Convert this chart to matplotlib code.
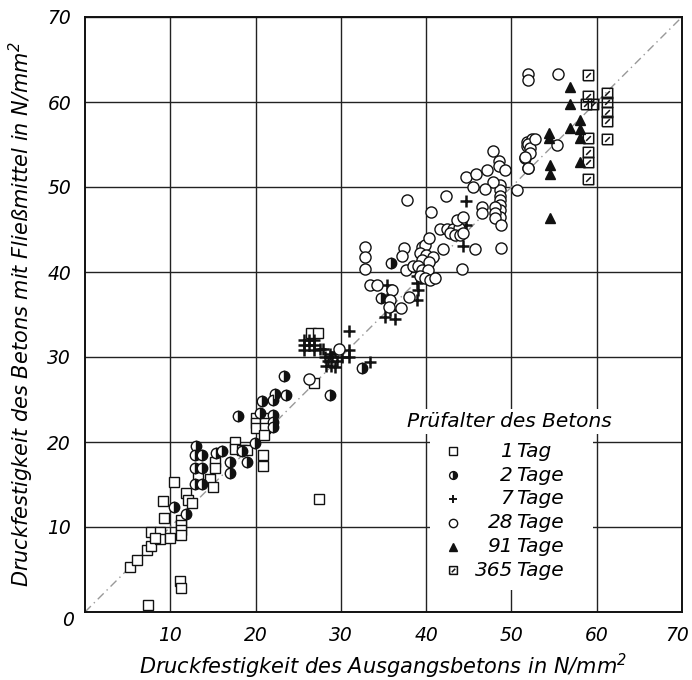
import matplotlib
matplotlib.use("Agg")
import matplotlib.pyplot as plt
from matplotlib.path import Path
from matplotlib.patches import Rectangle
from matplotlib.transforms import ScaledTranslation

plt.rcParams['font.family'] = ['DejaVu Sans']
plt.rcParams['font.style'] = 'italic'

# ---------------- data ----------------
tag1_x = [7.4, 11.1, 11.25, 5.3, 6.1, 7.3, 7.8, 7.7, 8.8, 8.8, 8.2, 10.0, 9.3, 9.1, 10.4,
          11.25, 11.25, 11.25, 11.25, 11.8, 12.1, 12.5, 13.2, 14.7, 15.0, 15.2, 15.2,
          17.6, 17.6, 18.4, 19.0, 20.9, 20.9, 20.0, 20.0, 20.0, 21.1, 21.1, 21.1, 21.0,
          26.5, 27.3, 26.8, 27.4]
tag1_y = [0.8, 3.6, 2.8, 5.3, 6.1, 7.3, 7.8, 9.4, 9.4, 8.6, 8.7, 8.7, 11.1, 13.1, 15.3,
          10.8, 10.2, 9.6, 9.1, 14.0, 13.2, 12.8, 16.0, 15.7, 14.7, 17.6, 17.0,
          20.0, 19.2, 19.1, 19.1, 18.5, 17.2, 22.8, 22.2, 21.6, 22.8, 22.2, 21.6, 20.8,
          32.8, 32.8, 26.9, 13.3]

tag2_x = [13.0, 12.9, 13.7, 12.9, 13.7, 12.9, 13.7, 15.4, 16.1, 17.0, 17.0, 19.0, 10.4,
          11.8, 19.9, 18.4, 17.9, 20.8, 22.3, 22.1, 23.3, 23.6, 22.1, 22.1, 22.1, 20.5,
          28.7, 32.5, 34.7, 35.9]
tag2_y = [19.5, 18.5, 18.5, 16.9, 16.9, 15.1, 15.1, 18.7, 18.9, 17.6, 16.3, 17.7, 12.3,
          11.5, 19.9, 18.9, 23.1, 24.8, 25.6, 24.9, 27.8, 25.5, 23.2, 22.4, 21.8, 23.4,
          25.5, 28.7, 37.0, 41.1]

tag7_x = [25.7, 25.7, 25.7, 26.3, 26.3, 26.8, 26.8, 26.8, 27.9, 30.9, 27.5, 28.1, 28.7,
          29.3, 30.1, 30.9, 30.9, 28.5, 29.0, 29.5, 28.3, 28.9, 29.3, 33.4, 35.4, 35.4,
          35.2, 36.3, 35.8, 38.9, 38.9, 39.1, 38.9, 44.3, 44.7, 44.7]
tag7_y = [32.0, 31.4, 30.8, 32.0, 31.4, 32.0, 31.4, 30.8, 31.0, 33.1, 30.9, 30.0, 30.4,
          30.6, 30.0, 30.8, 30.0, 29.5, 30.0, 29.5, 28.9, 28.9, 28.8, 29.4, 38.5, 36.8,
          34.7, 34.5, 35.5, 39.5, 38.7, 37.9, 36.7, 43.1, 48.4, 45.5]

tag28_x = [26.3, 29.8, 33.4, 34.2, 36.0, 35.8, 35.7, 37.0, 38.0, 32.8, 32.8, 32.8, 37.4,
           37.2, 37.7, 38.5, 37.8, 40.6, 39.5, 39.9, 40.3, 39.3, 40.0, 40.8, 39.5, 40.3,
           39.1, 39.5, 40.2, 39.3, 39.9, 40.5, 41.1, 42.0, 44.2, 45.7, 42.3, 41.6, 42.4,
           43.1, 43.8, 42.8, 43.4, 44.0, 44.3, 43.6, 44.3, 48.8, 46.5, 46.5, 48.7, 48.7,
           48.7, 48.7, 48.7, 48.7, 48.7, 48.1, 48.1, 48.1, 48.8, 47.9, 44.7, 45.9, 47.1,
           45.5, 46.9, 47.9, 48.5, 48.5, 49.2, 50.6, 51.8, 51.8, 51.6, 51.9, 52.0, 52.0,
           55.5, 52.4, 52.0, 52.2, 52.2, 51.6, 52.8, 52.0, 55.4]
tag28_y = [27.4, 30.9, 38.5, 38.5, 37.9, 36.7, 35.9, 35.8, 37.1, 42.9, 41.8, 40.3, 42.8,
           41.9, 40.2, 40.7, 48.5, 47.1, 43.0, 43.2, 44.0, 42.2, 42.0, 41.8, 41.4, 41.2,
           40.7, 40.2, 40.2, 39.5, 39.3, 39.1, 39.3, 42.7, 40.4, 42.7, 49.0, 45.1, 45.1,
           45.1, 45.2, 44.6, 44.4, 44.4, 44.6, 46.1, 46.5, 42.8, 47.7, 46.9, 50.2, 49.6,
           49.0, 48.5, 47.9, 47.3, 46.5, 47.7, 46.9, 46.3, 45.5, 50.6, 51.2, 51.5, 52.0,
           50.0, 49.8, 54.2, 53.1, 52.5, 52.0, 49.6, 55.3, 54.8, 53.4, 52.2, 63.3, 62.6,
           63.3, 55.6, 55.1, 54.6, 54.0, 53.5, 55.6, 52.2, 54.9]

tag91_x = [56.9, 56.9, 58.1, 58.1, 58.1, 58.0, 56.9, 54.4, 54.4, 54.5, 54.5, 54.5]
tag91_y = [61.8, 59.8, 57.9, 56.8, 55.8, 53.0, 57.0, 56.3, 55.8, 52.6, 51.5, 46.3]

tag365_x = [59.0, 59.0, 58.8, 59.0, 59.0, 59.0, 59.0, 61.2, 61.2, 61.2, 61.2, 61.2, 59.6]
tag365_y = [63.2, 60.7, 59.8, 55.8, 54.1, 53.0, 51.0, 61.1, 60.0, 58.8, 57.8, 55.7, 59.8]

ticks = [10, 20, 30, 40, 50, 60, 70]
legend_numbers = ["1", "2", "7", "28", "91", "365"]
legend_words = ["Tag", "Tage", "Tage", "Tage", "Tage", "Tage"]
legend_title = "Prüfalter des Betons"
xlabel = "Druckfestigkeit des Ausgangsbetons in N/mm$^2$"
ylabel = "Druckfestigkeit des Betons mit Fließmittel in N/mm$^2$"

# ---------------- figure ----------------
fig = plt.figure(figsize=(6.92, 6.8), dpi=100)
ax = fig.add_axes([0.1228, 0.10, 0.8627, 0.875])
ax.set_xlim(0, 70)
ax.set_ylim(0, 70)

ax.set_xticks(ticks)
ax.set_yticks(ticks)
ax.tick_params(length=0, labelsize=13.5)
ax.tick_params(axis='x', pad=10)
ax.tick_params(axis='y', pad=10)
ax.grid(True, color='#222222', lw=1.0)
ax.set_axisbelow(True)
for s in ax.spines.values():
    s.set_linewidth(1.4)
    s.set_color('#111111')

# keep the last x tick label inside the figure
last = ax.get_xticklabels()[-1]
last.set_transform(last.get_transform() + ScaledTranslation(-5 / 100, 0, fig.dpi_scale_trans))

ax.text(-2.0, -1.0, "0", fontsize=13.5, ha='center', va='center')

ax.set_xlabel(xlabel, fontsize=15, labelpad=5)
ax.set_ylabel(ylabel, fontsize=15, labelpad=8)

# diagonal reference line
ax.plot([0, 70], [0, 70], color='#999999', lw=1.0, ls=(0, (6, 3, 1, 3)), zorder=2)

slash_sq = Path([(-1, -1), (1, -1), (1, 1), (-1, 1), (-1, -1), (-0.45, -0.45), (0.45, 0.45)],
                [Path.MOVETO, Path.LINETO, Path.LINETO, Path.LINETO, Path.LINETO,
                 Path.MOVETO, Path.LINETO])

styles = [
    dict(marker='s', ms=7, mfc='white', mec='#111111', mew=1.0),
    dict(marker='o', ms=7.5, fillstyle='right', mfc='#111111', markerfacecoloralt='white',
         mec='#111111', mew=1.0),
    dict(marker='+', ms=8, mec='#111111', mew=1.8),
    dict(marker='o', ms=8, mfc='white', mec='#111111', mew=1.0),
    dict(marker='^', ms=7, mfc='#111111', mec='#111111'),
    dict(marker=slash_sq, ms=7.5, mfc='none', mec='#111111', mew=1.1),
]
series = [(tag1_x, tag1_y), (tag2_x, tag2_y), (tag7_x, tag7_y), (tag28_x, tag28_y),
          (tag91_x, tag91_y), (tag365_x, tag365_y)]
for (xs, ys), st in zip(series, styles):
    ax.plot(xs, ys, ls='none', zorder=4, **st)

# legend area (white box covering the grid)
ax.add_patch(Rectangle((40.4, 2.6), 19.2, 19.0, facecolor='white', edgecolor='none', zorder=3))
ax.text(49.8, 22.4, legend_title, fontsize=14.5, ha='center', va='center', zorder=5,
        bbox=dict(facecolor='white', edgecolor='none', pad=2))
y0 = 18.9
dy = 2.8
for i, (num, word, st) in enumerate(zip(legend_numbers, legend_words, styles)):
    yy = y0 - i * dy
    s2 = dict(st)
    s2['ms'] = st['ms'] * 0.75
    if st['marker'] == '+':
        s2['mew'] = 1.4
    ax.plot([43.1], [yy], ls='none', zorder=5, **s2)
    ax.text(50.2, yy, num, fontsize=14.5, ha='right', va='center', zorder=5)
    ax.text(50.6, yy, word, fontsize=14.5, ha='left', va='center', zorder=5)

fig.savefig("out.png", dpi=100)
